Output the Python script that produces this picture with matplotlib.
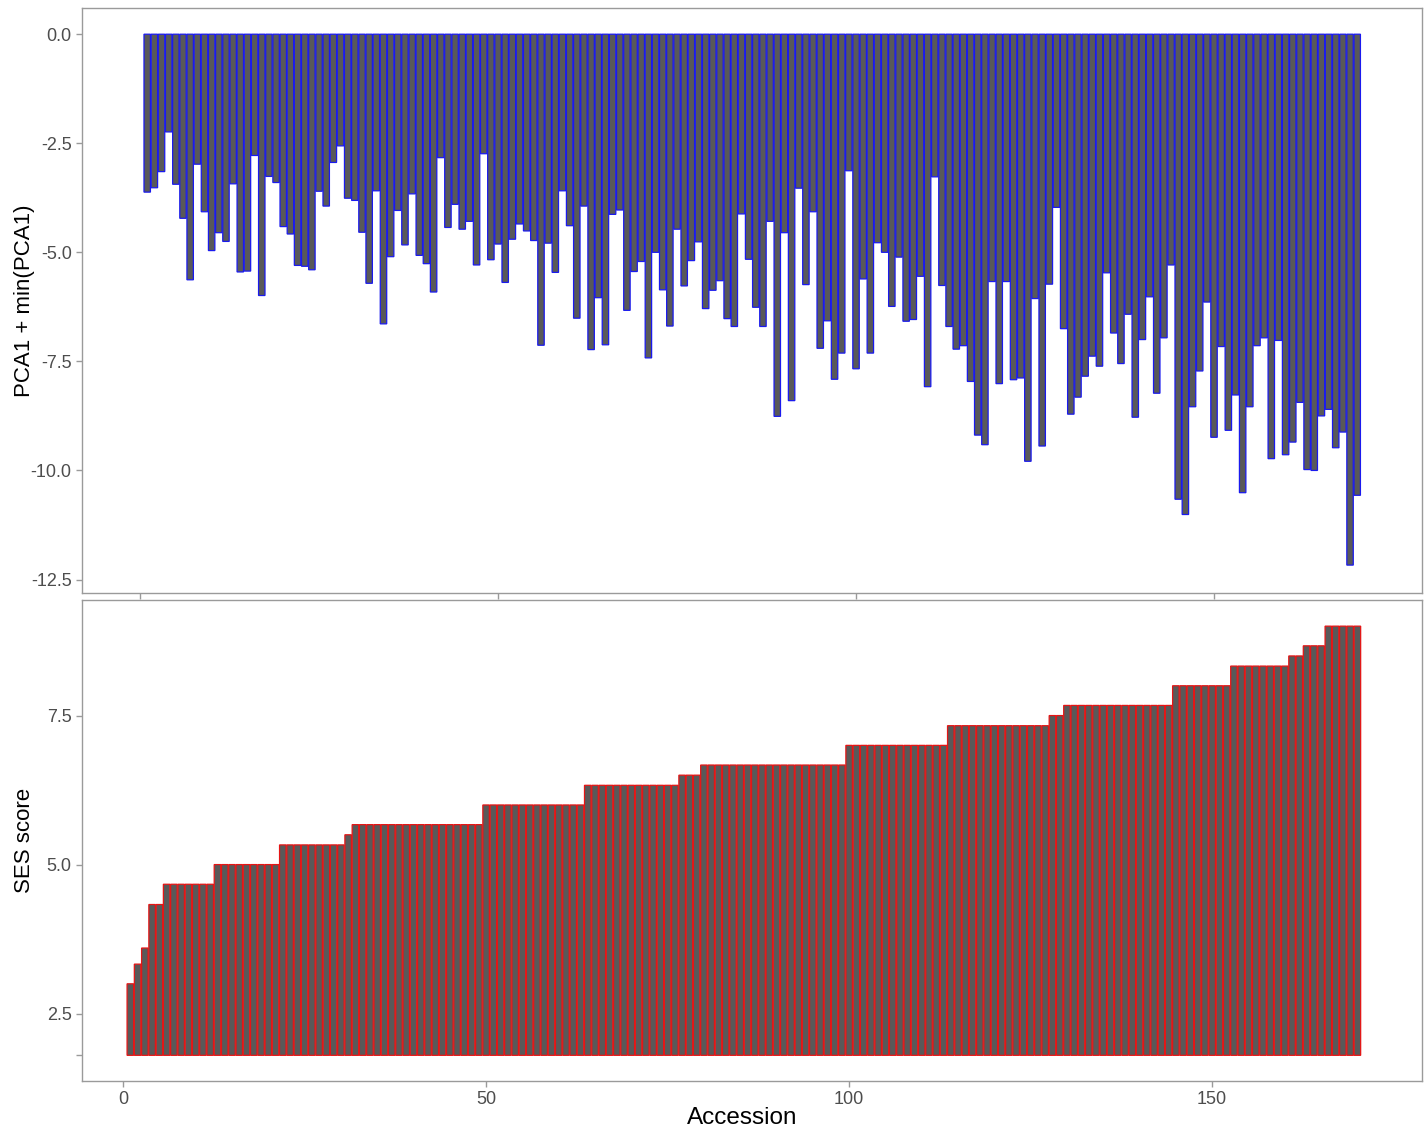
import matplotlib.pyplot as plt
import numpy as np

plt.rcParams['font.family'] = ['Liberation Sans', 'DejaVu Sans']
plt.rcParams['axes.unicode_minus'] = False

# top panel: PCA1 + min(PCA1) per accession (1..170)
pca_vals = [
    -3.62, -3.52, -3.15, -2.24, -3.44, -4.22, -5.63, -2.98, -4.07, -4.96,
    -4.55, -4.75, -3.43, -5.45, -5.43, -2.78, -5.99, -3.26, -3.40, -4.41,
    -4.58, -5.30, -5.32, -5.40, -3.60, -3.94, -2.94, -2.56,
    -3.76, -3.81, -4.54, -5.71, -3.59, -6.64, -5.10, -4.04, -4.83, -3.66,
    -5.07, -5.26, -5.91, -2.83, -4.43, -3.90, -4.47, -4.29, -5.29, -2.74,
    -5.17, -4.81, -5.69, -4.70, -4.35, -4.51, -4.73, -7.13, -4.79, -5.46,
    -3.59, -4.39, -6.51, -3.94, -7.23, -6.04, -7.12, -4.13, -4.03, -6.33,
    -5.44, -5.21, -7.42, -5.00, -5.86, -6.69, -4.47, -5.77, -5.19, -4.76,
    -6.29, -5.87, -5.65, -6.52, -6.70, -4.12, -5.16, -6.26, -6.70,
    -4.29, -8.76, -4.55, -8.40, -3.53, -5.74, -4.07, -7.20, -6.57, -7.91,
    -7.31, -3.13, -7.67, -5.61, -7.31, -4.78, -5.00, -6.24, -5.11, -6.58,
    -6.54, -5.55, -8.08, -3.27, -5.76, -6.70, -7.22, -7.14, -7.96,
    -9.19, -9.41, -5.67, -8.01, -5.67, -7.92, -7.88, -9.79, -6.06, -9.44,
    -5.73, -3.97, -6.75, -8.71, -8.32, -7.84, -7.38, -7.61, -5.47, -6.85,
    -7.55, -6.42, -8.78, -7.00, -6.02, -8.23, -6.96, -5.29, -10.66,
    -11.01, -8.54, -7.72, -6.14, -9.24, -7.16, -9.08, -8.27, -10.51, -8.54,
    -7.14, -6.96, -9.73, -7.02, -9.64, -9.35, -8.44, -9.98, -10.00, -8.75,
    -8.60, -9.48, -9.12, -12.17, -10.57,
]

# bottom panel: SES score, sorted, as (level, number of accessions)
ses_levels = [3.0, 3.33, 3.6, 4.33, 4.67, 5.0, 5.33, 5.5, 5.67, 6.0, 6.33,
              6.5, 6.67, 7.0, 7.33, 7.5, 7.67, 8.0, 8.33, 8.5, 8.67, 9.0]
ses_counts = [1, 1, 1, 2, 7, 9, 9, 1, 18, 14, 13,
              3, 20, 14, 14, 2, 15, 8, 8, 2, 3, 5]
ses_base = 1.8

pca_vals = np.array(pca_vals)
ses_vals = np.repeat(ses_levels, ses_counts)
acc_top = np.arange(1, len(pca_vals) + 1)
acc_bot = np.arange(1, len(ses_vals) + 1)

fill = '#595959'
border = '#9a9a9a'
txt = '#4d4d4d'

fig = plt.figure(figsize=(14.27, 11.30), dpi=100)
ax1 = fig.add_axes([0.0575, 0.4752, 0.939, 0.5177])
ax2 = fig.add_axes([0.0575, 0.0434, 0.939, 0.4257])

ax1.bar(acc_top, pca_vals, width=0.9, color=fill, edgecolor='#1a1aee',
        linewidth=0.9, snap=False)
ax1.set_xlim(-8.1, 179.05)
ax1.set_ylim(-12.81, 0.6)
ax1.set_xticks([0, 50, 100, 150])
ax1.set_xticklabels([])
yt = [0, -2.5, -5, -7.5, -10, -12.5]
ax1.set_yticks(yt)
ax1.set_yticklabels(['%.1f' % v for v in yt])
ax1.set_ylabel('PCA1 + min(PCA1)', fontsize=16)
ax1.yaxis.set_label_coords(-0.035, 0.5)

ax2.bar(acc_bot, ses_vals - ses_base, bottom=ses_base, width=0.9,
        color=fill, edgecolor='#e51515', linewidth=0.9, snap=False)
ax2.set_xlim(-5.65, 178.9)
ax2.set_ylim(1.37, 9.44)
ax2.set_xticks([0, 50, 100, 150])
ax2.set_yticks([ses_base, 2.5, 5.0, 7.5])
ax2.set_yticklabels(['', '2.5', '5.0', '7.5'])
ax2.set_ylabel('SES score', fontsize=16)
ax2.yaxis.set_label_coords(-0.035, 0.5)
ax2.set_xlabel('Accession', fontsize=17.5)
ax2.xaxis.set_label_coords(0.493, -0.055)

for ax in (ax1, ax2):
    for s in ax.spines.values():
        s.set_color(border)
        s.set_linewidth(1.0)
    ax.tick_params(color=border, labelcolor=txt, labelsize=13, length=4, width=1)

fig.savefig('out.png', dpi=100)
